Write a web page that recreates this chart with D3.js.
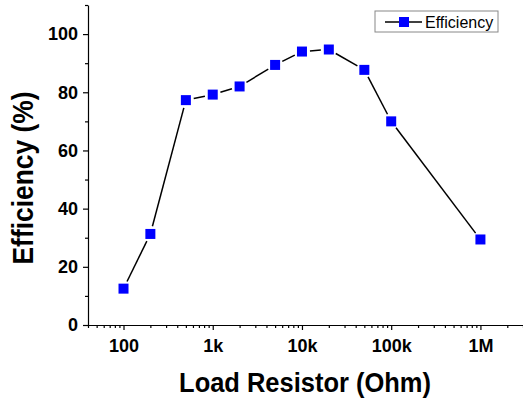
<!DOCTYPE html>
<meta charset="utf-8">
<style>
    body { margin: 0; background: #fff; }
    .axis path, .axis line { stroke: #000; stroke-width: 1.2px; }
    .axis text { font-family: 'Liberation Sans', Arial, sans-serif;
                 font-size: 18px; font-weight: bold; fill: #000; }
    .axis-title { font-family: 'Liberation Sans', Arial, sans-serif;
                  font-size: 28px; font-weight: bold; fill: #000; }
    .link { stroke: #000; stroke-width: 1.5px; }
    .marker { fill: #0000ff; }
    .legend-box { fill: #fff; stroke: #888; stroke-width: 1px; }
    .legend-text { font-family: 'Liberation Sans', Arial, sans-serif;
                   font-size: 16px; fill: #000; }
</style>
<body>
<div id="chart"></div>
<script src="https://cdn.jsdelivr.net/npm/d3@7"></script>
<script>
    var resistance = [100, 200, 500, 1000, 2000, 5000, 10000, 20000, 50000, 100000, 1000000];
    var efficiency = [12.5, 31.3, 77.3, 79.2, 82.0, 89.4, 94.0, 94.7, 87.7, 70.0, 29.4];
    var xTicks = [100, 1000, 10000, 100000, 1000000];
    var xTickLabels = ["100", "1k", "10k", "100k", "1M"];
    var yTicks = [0, 20, 40, 60, 80, 100];

    var width = 523,
        height = 399;

    var plotLeft = 88, plotRight = 523, plotTop = 5, plotBottom = 325;

    var svg = d3.select("#chart").append("svg")
        .attr("width", width)
        .attr("height", height);

    var x = d3.scaleLog()
        .domain([40, 3000000])
        .range([plotLeft, plotRight]);

    var y = d3.scaleLinear()
        .domain([0, 110])
        .range([plotBottom, plotTop]);

    // minor ticks: 2..9 in every decade
    var xMinor = [];
    for (var e = 1; e <= 6; e++) {
        for (var m = 1; m <= 9; m++) {
            var v = m * Math.pow(10, e);
            if (v >= 40 && v <= 3000000 && xTicks.indexOf(v) < 0) xMinor.push(v);
        }
    }
    var yMinor = [10, 30, 50, 70, 90, 110];

    svg.append("g")
        .attr("class", "axis")
        .attr("transform", "translate(0," + plotBottom + ")")
        .call(d3.axisBottom(x).tickValues(xMinor).tickSize(3).tickFormat(""))
        .call(g => g.select(".domain").remove());

    svg.append("g")
        .attr("class", "axis")
        .attr("transform", "translate(0," + plotBottom + ")")
        .call(d3.axisBottom(x).tickValues(xTicks).tickSize(5).tickSizeOuter(0)
            .tickFormat((d, i) => xTickLabels[i]))
        .call(g => g.selectAll("text").attr("dy", "1.05em"));

    svg.append("g")
        .attr("class", "axis")
        .attr("transform", "translate(" + plotLeft + ",0)")
        .call(d3.axisLeft(y).tickValues(yMinor).tickSize(3).tickFormat(""))
        .call(g => g.select(".domain").remove());

    svg.append("g")
        .attr("class", "axis")
        .attr("transform", "translate(" + plotLeft + ",0)")
        .call(d3.axisLeft(y).tickValues(yTicks).tickSize(5).tickSizeOuter(0).tickPadding(5));

    svg.append("text")
        .attr("class", "axis-title")
        .attr("transform", "translate(305,392) scale(0.91,1)")
        .attr("text-anchor", "middle")
        .text("Load Resistor (Ohm)");

    svg.append("text")
        .attr("class", "axis-title")
        .attr("transform", "translate(33,178) rotate(-90) scale(0.91,1)")
        .attr("text-anchor", "middle")
        .style("font-size", "29px")
        .text("Efficiency (%)");

    var points = resistance.map((r, i) => ({x: x(r), y: y(efficiency[i])}));

    // connecting segments, stopping short of the markers
    var gap = 8;
    var segs = d3.pairs(points).map(p => {
        var dx = p[1].x - p[0].x, dy = p[1].y - p[0].y;
        var len = Math.sqrt(dx * dx + dy * dy);
        var ux = dx / len, uy = dy / len;
        return [p[0].x + ux * gap, p[0].y + uy * gap, p[1].x - ux * gap, p[1].y - uy * gap];
    });

    svg.selectAll(".link")
        .data(segs)
        .enter().append("line")
        .attr("class", "link")
        .attr("x1", d => d[0]).attr("y1", d => d[1])
        .attr("x2", d => d[2]).attr("y2", d => d[3]);

    var ms = 10;
    svg.selectAll(".marker")
        .data(points)
        .enter().append("rect")
        .attr("class", "marker")
        .attr("x", d => d.x - ms / 2)
        .attr("y", d => d.y - ms / 2)
        .attr("width", ms)
        .attr("height", ms);

    var legend = svg.append("g").attr("transform", "translate(375,11)");
    legend.append("rect")
        .attr("class", "legend-box")
        .attr("width", 123)
        .attr("height", 21);
    legend.append("line")
        .attr("class", "link")
        .attr("x1", 10).attr("x2", 47)
        .attr("y1", 11).attr("y2", 11);
    legend.append("rect")
        .attr("class", "marker")
        .attr("x", 24).attr("y", 6)
        .attr("width", ms).attr("height", ms);
    legend.append("text")
        .attr("class", "legend-text")
        .attr("x", 50)
        .attr("y", 16.5)
        .text("Efficiency");
</script>
</body>
